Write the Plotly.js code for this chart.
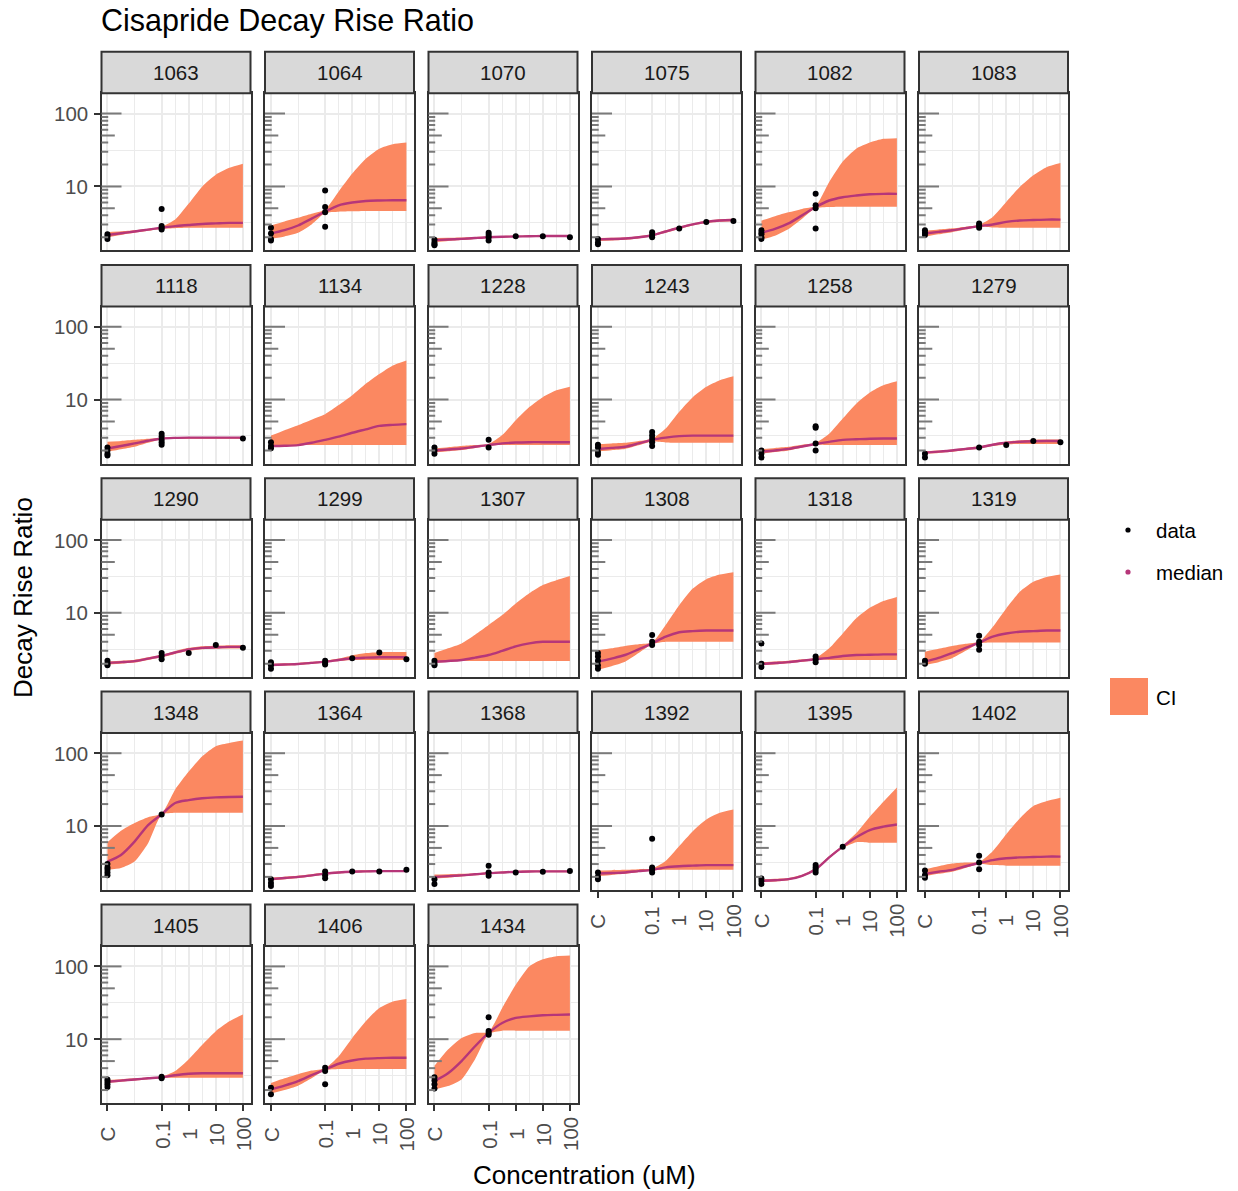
<!DOCTYPE html>
<html><head><meta charset="utf-8">
<script src="https://cdn.plot.ly/plotly-3.0.1.min.js"></script>
<style>html,body{margin:0;padding:0;background:#fff}</style>
</head><body><div id="chart" style="width:1238px;height:1191px"></div>
<script>
// ---------------- data ----------------
const C = 0.001; // control, drawn at the "C" position of the log concentration axis
const panelIds = ['1063','1064','1070','1075','1082','1083',
                  '1118','1134','1228','1243','1258','1279',
                  '1290','1299','1307','1308','1318','1319',
                  '1348','1364','1368','1392','1395','1402',
                  '1405','1406','1434'];
const concGrid = [0.001, 0.00316, 0.01, 0.0316, 0.1, 0.316, 1, 3.16, 10, 31.6, 100];
const medianRatio = [
 [2.15,2.27,2.4,2.55,2.7,2.85,2.95,3.05,3.1,3.15,3.15],
 [2.25,2.5,2.9,3.6,4.5,5.5,6.0,6.3,6.4,6.45,6.45],
 [1.83,1.86,1.9,1.95,2.0,2.03,2.05,2.07,2.08,2.08,2.08],
 [1.87,1.89,1.92,2.0,2.13,2.4,2.7,3.0,3.25,3.4,3.45],
 [2.3,2.6,3.1,4.0,5.2,6.4,7.1,7.5,7.8,7.9,7.9],
 [2.25,2.37,2.5,2.67,2.85,3.0,3.25,3.4,3.45,3.5,3.5],
 [2.13,2.3,2.5,2.72,2.92,2.98,3.0,3.0,3.0,3.0,3.0],
 [2.3,2.32,2.37,2.55,2.8,3.1,3.5,3.9,4.35,4.5,4.6],
 [2.0,2.06,2.13,2.25,2.37,2.5,2.57,2.6,2.6,2.6,2.6],
 [2.1,2.17,2.25,2.5,2.8,3.0,3.15,3.2,3.2,3.2,3.2],
 [1.92,2.0,2.1,2.27,2.45,2.63,2.8,2.85,2.9,2.92,2.92],
 [1.87,1.93,2.0,2.1,2.2,2.4,2.55,2.63,2.68,2.7,2.7],
 [2.05,2.1,2.17,2.35,2.55,2.85,3.15,3.3,3.35,3.4,3.4],
 [1.92,1.95,1.98,2.05,2.13,2.25,2.37,2.42,2.45,2.45,2.45],
 [2.13,2.18,2.25,2.42,2.63,3.0,3.45,3.8,4.0,4.0,4.0],
 [2.13,2.35,2.63,3.15,3.8,4.7,5.4,5.6,5.7,5.7,5.7],
 [1.98,2.04,2.1,2.2,2.3,2.4,2.55,2.63,2.65,2.68,2.68],
 [2.13,2.4,2.8,3.3,3.9,4.7,5.2,5.5,5.6,5.7,5.7],
 [3.25,4.0,6.1,10.3,14.5,20.7,22.7,24.1,24.7,25.0,25.2],
 [1.86,1.93,2.0,2.1,2.22,2.3,2.35,2.38,2.4,2.4,2.4],
 [2.0,2.05,2.1,2.17,2.25,2.3,2.35,2.37,2.38,2.38,2.38],
 [2.22,2.26,2.3,2.4,2.5,2.7,2.8,2.85,2.9,2.9,2.9],
 [1.77,1.8,1.86,2.07,2.55,3.7,5.2,7.0,8.8,9.8,10.5],
 [2.2,2.35,2.5,2.8,3.1,3.4,3.6,3.7,3.75,3.8,3.8],
 [2.6,2.7,2.8,2.9,3.0,3.2,3.35,3.4,3.4,3.4,3.4],
 [2.04,2.3,2.65,3.2,3.85,4.6,5.1,5.4,5.5,5.55,5.55],
 [2.66,3.4,5.0,8.0,12.2,16.7,19.6,20.6,21.3,21.6,21.8]
];
const ciLower = [
 [2.0,2.15,2.3,2.45,2.62,2.67,2.7,2.7,2.7,2.7,2.7],
 [1.9,2.05,2.3,3.0,4.3,4.5,4.55,4.6,4.6,4.6,4.6],
 [1.72,1.78,1.83,1.9,1.96,1.99,2.01,2.02,2.03,2.03,2.03],
 [1.78,1.81,1.85,1.93,2.06,2.3,2.6,2.9,3.13,3.27,3.32],
 [1.85,2.1,2.6,3.6,5.0,5.2,5.25,5.25,5.25,5.25,5.25],
 [2.05,2.2,2.35,2.55,2.78,2.72,2.7,2.7,2.7,2.7,2.7],
 [1.92,2.08,2.25,2.55,2.85,2.9,2.9,2.9,2.9,2.9,2.9],
 [2.25,2.3,2.35,2.37,2.37,2.37,2.37,2.37,2.37,2.37,2.37],
 [1.88,1.95,2.03,2.17,2.33,2.37,2.37,2.37,2.37,2.37,2.37],
 [1.95,2.02,2.1,2.35,2.65,2.58,2.55,2.55,2.55,2.55,2.55],
 [1.8,1.9,2.0,2.2,2.4,2.38,2.37,2.37,2.37,2.37,2.37],
 [1.8,1.85,1.92,2.02,2.12,2.3,2.42,2.45,2.45,2.45,2.45],
 [1.95,2.0,2.07,2.25,2.45,2.72,3.0,3.15,3.2,3.22,3.22],
 [1.85,1.88,1.92,1.98,2.07,2.17,2.25,2.25,2.25,2.25,2.25],
 [2.05,2.12,2.17,2.17,2.17,2.17,2.17,2.17,2.17,2.17,2.17],
 [1.65,1.85,2.13,2.8,3.7,4.0,4.0,4.0,4.0,4.0,4.0],
 [1.9,1.95,2.02,2.12,2.25,2.25,2.25,2.25,2.25,2.25,2.25],
 [1.92,2.1,2.37,3.0,3.8,3.9,3.9,3.9,3.9,3.9,3.9],
 [2.5,2.65,3.25,5.8,14.3,15.2,15.2,15.2,15.2,15.2,15.2],
 [1.78,1.85,1.93,2.03,2.15,2.23,2.28,2.31,2.33,2.33,2.33],
 [1.9,1.95,2.02,2.1,2.18,2.24,2.28,2.3,2.31,2.31,2.31],
 [2.05,2.12,2.2,2.33,2.45,2.5,2.5,2.5,2.5,2.5,2.5],
 [1.7,1.73,1.8,2.0,2.48,3.6,5.0,6.0,5.9,5.9,5.9],
 [2.05,2.2,2.35,2.65,3.0,2.9,2.85,2.85,2.85,2.85,2.85],
 [2.5,2.6,2.7,2.82,2.95,2.95,2.95,2.95,2.95,2.95,2.95],
 [1.8,2.0,2.3,2.9,3.75,3.9,3.9,3.9,3.9,3.9,3.9],
 [2.04,2.27,2.8,5.3,11.8,13.1,13.1,13.1,13.1,13.1,13.1]
];
const ciUpper = [
 [2.35,2.42,2.5,2.62,2.78,3.5,5.8,10,14.5,18,20.5],
 [2.9,3.3,3.7,4.2,4.8,8.5,15,24,33,38,40],
 [1.96,1.97,1.99,2.02,2.05,2.08,2.1,2.12,2.13,2.13,2.13],
 [1.96,1.97,1.99,2.07,2.2,2.5,2.8,3.1,3.37,3.53,3.58],
 [3.4,3.9,4.4,4.9,5.4,11.5,22,33,40,45,46],
 [2.45,2.55,2.65,2.8,2.95,3.8,6.1,9.8,14.2,18.5,21],
 [2.63,2.7,2.8,2.9,3.0,3.05,3.07,3.07,3.07,3.07,3.07],
 [3.2,3.8,4.45,5.3,6.3,8.4,11.5,16.5,22.5,29.5,34.5],
 [2.15,2.22,2.3,2.37,2.45,3.25,5.2,7.9,10.8,13.4,15],
 [2.45,2.5,2.55,2.7,2.9,4.0,6.8,10.8,15,18.5,21],
 [2.1,2.17,2.25,2.4,2.55,3.4,5.5,8.8,12.5,15.7,17.8],
 [1.95,2.0,2.07,2.17,2.28,2.48,2.65,2.75,2.8,2.82,2.82],
 [2.15,2.2,2.27,2.45,2.65,2.97,3.3,3.47,3.52,3.57,3.57],
 [1.99,2.02,2.05,2.12,2.2,2.35,2.6,2.8,2.88,2.9,2.9],
 [2.8,3.25,3.8,5.0,6.8,9.3,13.4,18.5,24,28,32],
 [3.05,3.25,3.5,3.7,3.9,6.8,12.7,21.5,29,33.5,36],
 [2.1,2.15,2.2,2.3,2.4,3.25,5.2,8.4,11.7,14.5,16.5],
 [2.92,3.2,3.5,3.75,4.0,6.4,11.5,19.4,26.6,31,33.5],
 [6.0,8.6,11,13.2,14.8,31.8,56,91,125,138,149],
 [1.95,2.01,2.07,2.17,2.29,2.37,2.43,2.46,2.48,2.48,2.48],
 [2.15,2.17,2.2,2.25,2.32,2.37,2.42,2.44,2.45,2.45,2.45],
 [2.45,2.47,2.5,2.55,2.6,3.3,5.3,8.5,12.3,15.2,16.9],
 [1.85,1.88,1.93,2.14,2.65,3.85,5.4,8.0,13.4,21.5,33.8],
 [2.55,2.8,3.05,3.15,3.2,4.5,7.7,12.7,18.8,22,24.4],
 [2.75,2.82,2.9,2.97,3.05,3.65,5.3,8.4,12.9,17.6,21.8],
 [2.5,2.9,3.3,3.7,4.0,5.85,10.4,17.6,26.8,33,35.7],
 [4.3,7.2,10.4,12.2,12.6,26.8,56,100,125,138,141]
];
const pointConc = [
 [C,C,C,.1,.1,.1,.1],
 [C,C,C,C,.1,.1,.1,.1],
 [C,C,C,C,.1,.1,.1,.1,1,10,100],
 [C,C,C,.1,.1,.1,1,10,100],
 [C,C,C,C,C,.1,.1,.1,.1],
 [C,C,C,.1,.1,.1],
 [C,C,C,C,.1,.1,.1,.1,.1,100],
 [C,C,C],
 [C,C,C,.1,.1],
 [C,C,C,C,.1,.1,.1,.1,.1],
 [C,C,C,.1,.1,.1,.1],
 [C,C,.1,1,10,100],
 [C,C,C,.1,.1,.1,1,10,100],
 [C,C,C,.1,.1,.1,1,10,100],
 [C,C,C],
 [C,C,C,C,C,.1,.1,.1],
 [C,C,C,.1,.1,.1],
 [C,C,.1,.1,.1,.1],
 [C,C,C,C,C,.1],
 [C,C,C,.1,.1,.1,1,10,100],
 [C,C,.1,.1,.1,1,10,100],
 [C,C,C,.1,.1,.1,.1],
 [C,C,C,.1,.1,.1,.1,1],
 [C,C,C,.1,.1,.1],
 [C,C,C,C,.1,.1],
 [C,C,.1,.1,.1],
 [C,C,C,C,.1,.1,.1,.1]
];
const pointRatio = [
 [1.9,2.05,2.2,4.9,2.85,2.7,2.55],
 [2.7,2.25,1.9,1.8,8.8,5.2,4.4,2.8],
 [1.85,1.7,1.6,1.55,2.3,2.15,2.0,1.8,2.07,2.07,2.0],
 [1.9,1.7,1.6,2.35,2.15,2.0,2.63,3.25,3.35],
 [2.5,2.3,2.2,2.0,1.9,7.9,5.5,5.0,2.63],
 [2.5,2.3,2.15,3.1,2.9,2.7],
 [2.2,2.0,1.8,1.7,3.4,3.1,2.8,2.6,2.4,2.92],
 [2.6,2.3,2.15],
 [2.2,2.0,1.8,2.8,2.2],
 [2.4,2.2,1.9,1.75,3.6,3.2,2.9,2.6,2.3],
 [2.0,1.8,1.6,4.3,4.1,2.5,2.0],
 [1.8,1.6,2.2,2.37,2.7,2.6],
 [2.2,2.0,1.9,2.8,2.55,2.3,2.8,3.6,3.3],
 [2.1,1.9,1.7,2.2,2.05,1.95,2.37,2.85,2.3],
 [2.2,2.0,1.9],
 [2.8,2.5,2.2,1.9,1.7,4.95,4.0,3.6],
 [3.8,2.0,1.8,2.5,2.3,2.1],
 [2.2,2.0,4.85,4.0,3.6,3.1],
 [3.0,2.7,2.5,2.3,2.1,14.4],
 [1.85,1.65,1.5,2.37,2.1,1.92,2.37,2.37,2.5],
 [1.86,1.6,2.84,2.3,2.07,2.3,2.35,2.4],
 [2.3,2.0,1.85,6.7,2.7,2.5,2.3],
 [1.9,1.75,1.6,2.9,2.7,2.5,2.3,5.2],
 [2.45,2.1,1.95,3.9,3.15,2.55],
 [2.8,2.6,2.4,2.2,3.05,2.9],
 [2.15,1.75,4.05,3.65,2.4],
 [3.0,2.7,2.4,2.1,20,13,12.2,11.5]
];
const xTickVals = [0.001, 0.1, 1, 10, 100];
const xTickText = ['C', '0.1', '1', '10', '100'];
const xMinorVals = [0.01, 0.316, 3.16, 31.6];
const yTickVals = [10, 100];
const yTickText = ['10', '100'];
const yMinorVals = [3.162, 31.62];
const logTickVals = [2,3,4,5,6,7,8,9,10,20,30,40,50,60,70,80,90,100];
const legendLabels = ['data', 'median', 'CI'];

// ---------------- style / geometry ----------------
const W = 1238, H = 1191;
const FONT = 'Liberation Sans, Arial, sans-serif';
const colLeft = [101.5, 265, 428.5, 592, 755.5, 919];
const panelW = 149;
const rowTop = [93.3, 306.5, 519.7, 732.9, 946.1];
const panelH = 157;
const stripH = 41.5;
const xRange = [-3.22, 2.28];
const yRange = [0.122, 2.279];
const COL_CI = '#FB8861', COL_MED = '#B63679', COL_PT = '#000004';
const px = v => v / W;
const py = v => 1 - v / H;

const traces = [], shapes = [], annotations = [];
const layout = {
  width: W, height: H, margin: {l: 0, r: 0, t: 0, b: 0},
  paper_bgcolor: '#ffffff', plot_bgcolor: '#ffffff', showlegend: false,
  font: {family: FONT, color: '#000000'},
  shapes: shapes, annotations: annotations
};

panelIds.forEach((id, i) => {
  const r = Math.floor(i / 6), c = i % 6, n = i + 1;
  const sfx = n === 1 ? '' : String(n);
  const xa = 'x' + sfx, ya = 'y' + sfx;
  const L = colLeft[c], T = rowTop[r], B = T + panelH;
  const isBottom = i + 6 >= panelIds.length;
  const isLeft = c === 0;

  layout['xaxis' + sfx] = {
    domain: [px(L), px(L + panelW)], anchor: ya, type: 'log', range: xRange,
    tickvals: xTickVals, ticktext: xTickText, showticklabels: false,
    ticks: isBottom ? 'outside' : '', ticklen: 6, tickwidth: 2, tickcolor: '#333333',
    showgrid: true, gridcolor: '#EBEBEB', gridwidth: 2,
    minor: {tickvals: xMinorVals, showgrid: true, gridcolor: '#EBEBEB', gridwidth: 1, ticks: ''},
    showline: true, linecolor: '#333333', linewidth: 2, mirror: true,
    zeroline: false, fixedrange: true
  };
  layout['yaxis' + sfx] = {
    domain: [py(B), py(T)], anchor: xa, type: 'log', range: yRange,
    tickvals: yTickVals, ticktext: yTickText, showticklabels: false,
    ticks: isLeft ? 'outside' : '', ticklen: 6, tickwidth: 2, tickcolor: '#333333',
    showgrid: true, gridcolor: '#EBEBEB', gridwidth: 2,
    minor: {tickvals: yMinorVals, showgrid: true, gridcolor: '#EBEBEB', gridwidth: 1, ticks: ''},
    showline: true, linecolor: '#333333', linewidth: 2, mirror: true,
    zeroline: false, fixedrange: true
  };

  // ribbon (CI), median line, data points
  traces.push({type: 'scatter', mode: 'lines', x: concGrid, y: ciLower[i], xaxis: xa, yaxis: ya,
    line: {width: 0, shape: 'spline', smoothing: 0.6}, hoverinfo: 'skip'});
  traces.push({type: 'scatter', mode: 'lines', x: concGrid, y: ciUpper[i], xaxis: xa, yaxis: ya,
    fill: 'tonexty', fillcolor: COL_CI,
    line: {width: 0, shape: 'spline', smoothing: 0.6}, hoverinfo: 'skip'});
  traces.push({type: 'scatter', mode: 'lines', x: concGrid, y: medianRatio[i], xaxis: xa, yaxis: ya,
    line: {color: COL_MED, width: 2.4, shape: 'spline', smoothing: 0.8}, hoverinfo: 'skip'});
  traces.push({type: 'scatter', mode: 'markers', x: pointConc[i], y: pointRatio[i], xaxis: xa, yaxis: ya,
    marker: {color: COL_PT, size: 6}, hoverinfo: 'skip'});

  // annotation_logticks on the left side of each panel
  logTickVals.forEach(v => {
    const lg = Math.log10(v);
    const frac = lg - Math.floor(lg + 1e-9);
    let len = 6.7;
    if (Math.abs(frac) < 1e-6) len = 20;
    else if (Math.abs(frac - Math.log10(5)) < 1e-6) len = 13.3;
    shapes.push({type: 'line', xref: xa + ' domain', yref: ya, x0: 0, x1: len / panelW, y0: v, y1: v,
      line: {color: '#7A7A7A', width: 2}, layer: 'above'});
  });

  // strip
  shapes.push({type: 'rect', xref: 'paper', yref: 'paper',
    x0: px(L), x1: px(L + panelW), y0: py(T), y1: py(T - stripH),
    fillcolor: '#D9D9D9', line: {color: '#333333', width: 2}, layer: 'above'});
  annotations.push({xref: 'paper', yref: 'paper', x: px(L + panelW / 2), y: py(T - stripH / 2),
    text: id, showarrow: false, xanchor: 'center', yanchor: 'middle',
    font: {size: 20.5, color: '#1A1A1A', family: FONT}});

  // tick labels
  if (isLeft) {
    yTickVals.forEach((v, k) => annotations.push({xref: 'paper', yref: ya, x: px(L - 12), y: Math.log10(v),
      text: yTickText[k], showarrow: false, xanchor: 'right', yanchor: 'middle',
      font: {size: 20.5, color: '#4D4D4D', family: FONT}}));
  }
  if (isBottom) {
    xTickVals.forEach((v, k) => annotations.push({xref: xa, yref: 'paper', x: Math.log10(v), y: py(B + 31),
      text: xTickText[k], showarrow: false, textangle: -90, xanchor: 'center', yanchor: 'middle',
      font: {size: 20.5, color: '#4D4D4D', family: FONT}}));
  }
});

// titles
annotations.push({xref: 'paper', yref: 'paper', x: px(99), y: py(20), text: 'Cisapride Decay Rise Ratio',
  showarrow: false, xanchor: 'left', yanchor: 'middle', font: {size: 30.5, color: '#000000', family: FONT}});
annotations.push({xref: 'paper', yref: 'paper', x: px(584), y: py(1175), text: 'Concentration (uM)',
  showarrow: false, xanchor: 'center', yanchor: 'middle', font: {size: 26, color: '#000000', family: FONT}});
annotations.push({xref: 'paper', yref: 'paper', x: px(23), y: py(598), text: 'Decay Rise Ratio', textangle: -90,
  showarrow: false, xanchor: 'center', yanchor: 'middle', font: {size: 26, color: '#000000', family: FONT}});

// legend
const dotR = 2.6;
[[530, COL_PT], [572, COL_MED]].forEach(([yy, col]) => shapes.push({type: 'circle', xref: 'paper', yref: 'paper',
  x0: px(1128 - dotR), x1: px(1128 + dotR), y0: py(yy + dotR), y1: py(yy - dotR),
  fillcolor: col, line: {width: 0}}));
shapes.push({type: 'rect', xref: 'paper', yref: 'paper', x0: px(1110), x1: px(1148), y0: py(715), y1: py(678),
  fillcolor: COL_CI, line: {width: 0}});
[[530, legendLabels[0]], [572, legendLabels[1]], [697, legendLabels[2]]].forEach(([yy, t]) =>
  annotations.push({xref: 'paper', yref: 'paper', x: px(1154), y: py(yy), text: t, showarrow: false,
    xanchor: 'left', yanchor: 'middle', font: {size: 20.5, color: '#000000', family: FONT}}));

Plotly.newPlot('chart', traces, layout, {staticPlot: true, displayModeBar: false});
</script>
</body></html>
